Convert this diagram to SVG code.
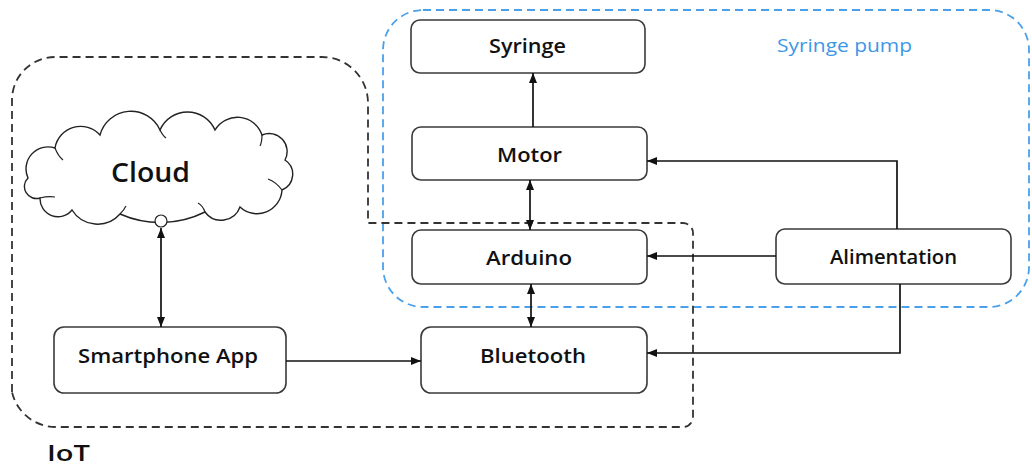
<svg xmlns="http://www.w3.org/2000/svg" width="1032" height="470" viewBox="0 0 1032 470">
<style>
.box{fill:#fff;stroke:#3a3a3a;stroke-width:1.6}
.lbl{font-family:"Open Sans","Liberation Sans",sans-serif;font-weight:600;font-size:20px;fill:#111}
.line{fill:none;stroke:#111;stroke-width:1.7}
.iot{fill:none;stroke:#333;stroke-width:1.8;stroke-dasharray:8 5}
.pump{fill:none;stroke:#4ba0ea;stroke-width:1.8;stroke-dasharray:8 5}
</style>
<defs>
<marker id="ah" viewBox="0 0 10 8" refX="10" refY="4" markerWidth="10" markerHeight="8" markerUnits="userSpaceOnUse" orient="auto-start-reverse">
<path d="M0,0 L10,4 L0,8 Z" fill="#111"/>
</marker>
</defs>
<rect x="0" y="0" width="1032" height="470" fill="#fff"/>

<g id="group-syringe-pump">
<rect class="pump" x="383" y="10" width="646" height="297" rx="40"/>
<text x="777" y="52" textLength="135" lengthAdjust="spacingAndGlyphs" style="font-family:'Open Sans','Liberation Sans',sans-serif;font-size:19px;fill:#3d97e6">Syringe pump</text>
</g>

<g id="group-iot">
<path class="iot" d="M12,392 L12,100 A43,43 0 0 1 55,57 L322,57 A46,46 0 0 1 368,103 L368,223 L683,223 A10,10 0 0 1 693,233 L693,417 A10,10 0 0 1 683,427 L57,427 A45,45 0 0 1 12,392"/>
<text x="47" y="461" textLength="43" lengthAdjust="spacingAndGlyphs" style="font-family:'Open Sans','Liberation Sans',sans-serif;font-weight:600;font-size:21px;fill:#111">IoT</text>
</g>

<g id="node-cloud">
<path d="M40,198 A12,12 0 0 1 28,178 A22,22 0 0 1 55,148 A26,26 0 0 1 100,135 A32,32 0 0 1 160,130 A30,30 0 0 1 215,130 A26,26 0 0 1 262,135 A18,18 0 0 1 285,160 A17,17 0 0 1 282,190 A25,25 0 0 1 240,207 A20,20 0 0 1 205,212 A100,100 0 0 1 120,214 A30,30 0 0 1 72,210 A18,18 0 0 1 40,198 Z" fill="#fff" stroke="#222" stroke-width="1.4"/>
<path d="M40,198 Q48,196 55,197 M55,148 Q58,156 63,160 M160,130 Q163,136 166,138 M262,135 Q262,142 260,146 M282,190 Q276,182 268,179 M205,212 Q203,206 198,203 M120,214 Q124,210 126,206" fill="none" stroke="#222" stroke-width="1.2"/>
<text x="111" y="182" textLength="79" lengthAdjust="spacingAndGlyphs" style="font-family:'Open Sans','Liberation Sans',sans-serif;font-weight:600;font-size:27px;fill:#111">Cloud</text>
<circle cx="161" cy="221" r="6" fill="#fff" stroke="#222" stroke-width="1.2"/>
</g>

<g id="node-syringe">
<rect class="box" x="411" y="20" width="234" height="53" rx="9"/>
<text class="lbl" x="489" y="53" textLength="77" lengthAdjust="spacingAndGlyphs">Syringe</text>
</g>

<g id="node-motor">
<rect class="box" x="412" y="127" width="235" height="53" rx="9"/>
<text class="lbl" x="497" y="162" textLength="65" lengthAdjust="spacingAndGlyphs">Motor</text>
</g>

<g id="node-arduino">
<rect class="box" x="412" y="230" width="235" height="54" rx="9"/>
<text class="lbl" x="486" y="265" textLength="86" lengthAdjust="spacingAndGlyphs">Arduino</text>
</g>

<g id="node-alimentation">
<rect class="box" x="776" y="229" width="235" height="55" rx="9"/>
<text class="lbl" x="830" y="264" textLength="127" lengthAdjust="spacingAndGlyphs">Alimentation</text>
</g>

<g id="node-bluetooth">
<rect class="box" x="421" y="327" width="226" height="66" rx="10"/>
<text class="lbl" x="480" y="363" textLength="106" lengthAdjust="spacingAndGlyphs">Bluetooth</text>
</g>

<g id="node-smartphone">
<rect class="box" x="54" y="327" width="232" height="66" rx="10"/>
<text class="lbl" x="78" y="363" textLength="180" lengthAdjust="spacingAndGlyphs">Smartphone App</text>
</g>

<g id="connectors">
<path class="line" d="M533,127 L533,73" marker-end="url(#ah)"/>
<path class="line" d="M530,180 L530,230" marker-start="url(#ah)" marker-end="url(#ah)"/>
<path class="line" d="M531,284 L531,327" marker-start="url(#ah)" marker-end="url(#ah)"/>
<path class="line" d="M776,256 L647,256" marker-end="url(#ah)"/>
<path class="line" d="M897,229 L897,161 L647,161" marker-end="url(#ah)"/>
<path class="line" d="M900,284 L900,353 L647,353" marker-end="url(#ah)"/>
<path class="line" d="M286,361 L421,361" marker-end="url(#ah)"/>
<path class="line" d="M161,228 L161,327" marker-start="url(#ah)" marker-end="url(#ah)"/>
</g>
</svg>
